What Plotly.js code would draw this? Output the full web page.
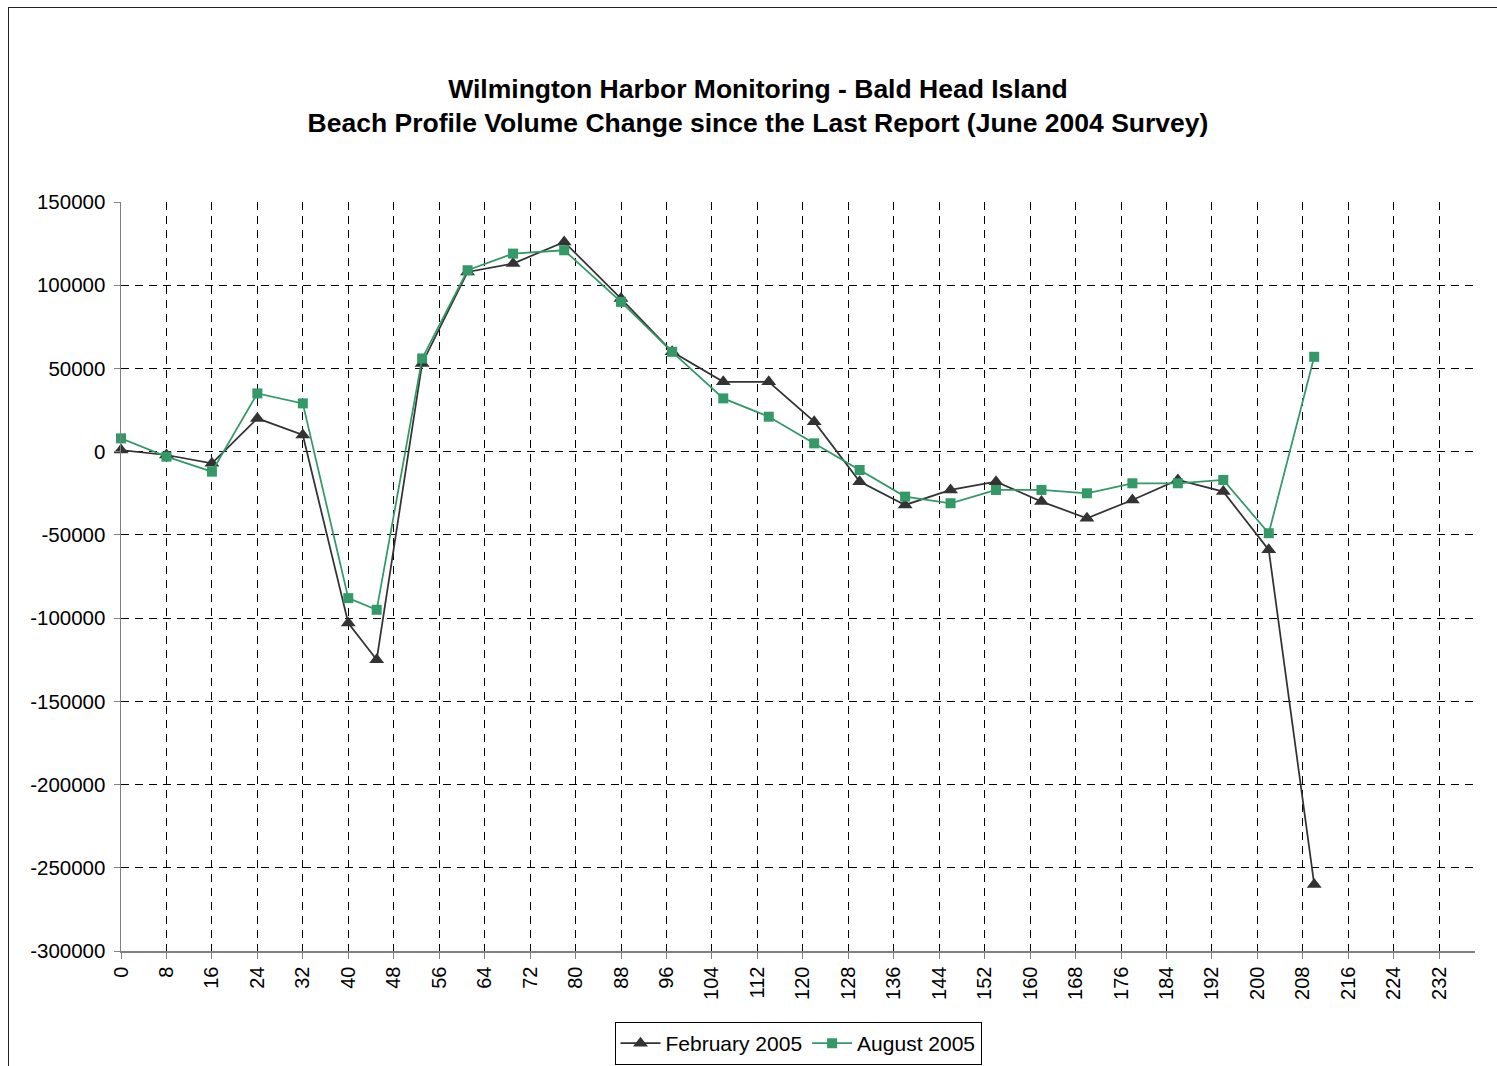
<!DOCTYPE html>
<html>
<head>
<meta charset="utf-8">
<script src="https://cdn.plot.ly/plotly-3.0.1.min.js"></script>
<style>
  html, body { margin: 0; padding: 0; background: #fff; overflow: hidden; }
  #chart { position: absolute; left: 0; top: 0; width: 1497px; height: 1066px; }
  #frame { position: absolute; left: 8px; top: 7px; width: 1600px; height: 1200px;
           border: 1px solid #222; pointer-events: none; }
</style>
</head>
<body>
<div id="chart"></div>
<div id="frame"></div>
<script>
// Station positions (x) and volume change values
const stations = [0, 8, 16, 24, 32, 40, 45, 53, 61, 69, 78, 88, 97, 106, 114, 122, 130, 138, 146, 154, 162, 170, 178, 186, 194, 202, 210];
const february2005 = [1000, -2000, -7000, 20000, 10000, -103000, -125000, 53000, 108000, 113000, 126000, 92000, 60000, 42000, 42000, 18000, -18000, -32000, -23000, -18000, -30000, -40000, -29000, -17000, -24000, -59000, -260000];
const august2005 = [8000, -3000, -12000, 35000, 29000, -88000, -95000, 56000, 109000, 119000, 121000, 90000, 60000, 32000, 21000, 5000, -11000, -27000, -31000, -23000, -23000, -25000, -19000, -19000, -17000, -49000, 57000];

const xTicks = [0, 8, 16, 24, 32, 40, 48, 56, 64, 72, 80, 88, 96, 104, 112, 120, 128, 136, 144, 152, 160, 168, 176, 184, 192, 200, 208, 216, 224, 232];
const yTicks = [150000, 100000, 50000, 0, -50000, -100000, -150000, -200000, -250000, -300000];

const seriesNames = ['February 2005', 'August 2005'];
const titleLines = ['Wilmington Harbor Monitoring - Bald Head Island',
                    'Beach Profile Volume Change since the Last Report (June 2004 Survey)'];

const FONT = '"Liberation Sans", Arial, sans-serif';

const traces = [
  {
    x: stations, y: february2005, name: seriesNames[0],
    type: 'scatter', mode: 'lines+markers',
    line: { color: '#333333', width: 1.75 },
    marker: { symbol: 'triangle-up', size: 13, color: '#333333' },
    cliponaxis: false
  },
  {
    x: stations, y: august2005, name: seriesNames[1],
    type: 'scatter', mode: 'lines+markers',
    line: { color: '#339966', width: 1.75 },
    marker: { symbol: 'square', size: 10, color: '#339966' },
    cliponaxis: false
  }
];

const layout = {
  width: 1497, height: 1066,
  paper_bgcolor: '#ffffff', plot_bgcolor: '#ffffff',
  margin: { l: 121, r: 22, t: 202, b: 115, autoexpand: false },
  font: { family: FONT, color: '#000000' },
  title: {
    text: '<b>' + titleLines[0] + '</b><br><b>' + titleLines[1] + '</b>',
    font: { family: FONT, size: 26.5, color: '#000000' },
    xref: 'container', x: 758 / 1497, xanchor: 'center',
    yref: 'container', y: 1 - 98 / 1066, yanchor: 'top'
  },
  xaxis: {
    range: [0, 238.3],
    tickmode: 'array', tickvals: xTicks, ticktext: xTicks.map(String),
    tickangle: -90,
    tickfont: { family: FONT, size: 20, color: '#000000' },
    ticks: 'outside', ticklen: 6, tickcolor: '#808080', tickwidth: 1,
    showline: true, linecolor: '#808080', linewidth: 1.5,
    showgrid: true, gridcolor: '#000000', gridwidth: 1, griddash: '8px,6px',
    zeroline: false, fixedrange: true, automargin: false
  },
  yaxis: {
    range: [-300000, 150000],
    tickmode: 'array', tickvals: yTicks, ticktext: yTicks.map(String),
    tickfont: { family: FONT, size: 20.5, color: '#000000' },
    ticks: 'outside', ticklen: 6, tickcolor: '#808080', tickwidth: 1,
    ticklabelstandoff: 4,
    showline: true, linecolor: '#808080', linewidth: 1.5,
    showgrid: true, gridcolor: '#000000', gridwidth: 1, griddash: '8px,6px',
    zeroline: false, fixedrange: true, automargin: false
  },
  showlegend: true,
  legend: {
    orientation: 'h',
    xref: 'paper', x: 0.5, xanchor: 'center',
    yref: 'container', y: 1 - 1022 / 1066, yanchor: 'top',
    bgcolor: '#ffffff', bordercolor: '#000000', borderwidth: 1,
    font: { family: FONT, size: 21, color: '#000000' },
    itemwidth: 40
  }
};

Plotly.newPlot('chart', traces, layout, { displayModeBar: false, staticPlot: true });
</script>
</body>
</html>
